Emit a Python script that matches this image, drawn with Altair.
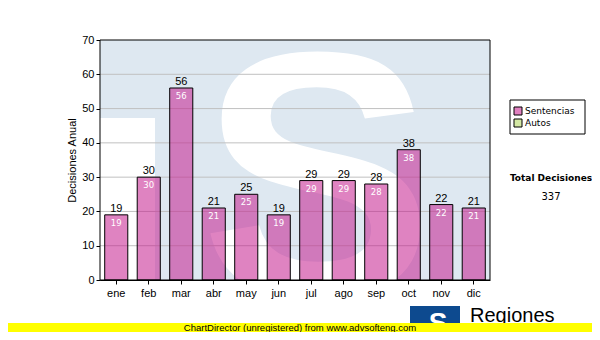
import altair as alt
import pandas as pd

# ---- data ----
months = ["ene", "feb", "mar", "abr", "may", "jun", "jul", "ago", "sep", "oct", "nov", "dic"]
values = [19, 30, 56, 21, 25, 19, 29, 29, 28, 38, 22, 21]
series_names = ["Sentencias", "Autos"]
series_colors = ["#e080c0", "#d4e8a4"]
total_label = "Total Decisiones"
total_value = 337
y_ticks = [0, 10, 20, 30, 40, 50, 60, 70]
grid_values = [10, 20, 30, 40, 50, 60]
y_title = "Decisiones Anual"
footer_text = "ChartDirector (unregistered) from www.advsofteng.com"
logo_title = "Regiones"
logo_sub = "Tribunal Supremo de Justicia"

W, H = 390, 240
AX_FONT = "Liberation Sans"

df = pd.DataFrame({"mes": months, "valor": values})
one = pd.DataFrame({"k": [0]})

x_enc = alt.X(
    "mes:N", sort=months,
    scale=alt.Scale(paddingInner=0.29, paddingOuter=0.145),
    axis=alt.Axis(title=None, labelAngle=0, labelFont=AX_FONT, labelFontSize=11,
                  labelColor="black", tickColor="black", tickSize=4,
                  domainColor="black", labelPadding=3, grid=False),
)
y_enc = alt.Y(
    "valor:Q",
    scale=alt.Scale(domain=[0, 70], nice=False),
    axis=alt.Axis(values=y_ticks, title=y_title, titleFont=AX_FONT, titleFontSize=11,
                  titleFontWeight="normal", titleColor="black", titlePadding=4,
                  labelFont=AX_FONT, labelFontSize=11, labelColor="black",
                  tickColor="black", tickSize=4, domainColor="black",
                  labelPadding=2, grid=False),
)

# watermark
wm_bg = alt.Chart(one).mark_rect(color="#dee8f1").encode(
    x=alt.value(0), x2=alt.value(W), y=alt.value(0), y2=alt.value(H))
wm_cut = alt.Chart(one).mark_rect(color="white").encode(
    x=alt.value(0), x2=alt.value(55), y=alt.value(78), y2=alt.value(H))
wm_s = alt.Chart(one).mark_text(
    text="S", font="Liberation Sans", fontWeight="bold", fontSize=350,
    color="white", clip=True, baseline="alphabetic", align="center",
).encode(x=alt.value(217), y=alt.value(256))

grid_df = pd.DataFrame({"valor": grid_values})
grid = alt.Chart(grid_df).mark_rule(color="#c0c0c0", strokeWidth=1).encode(y=y_enc)

bars = alt.Chart(df).mark_bar(
    fill="#c41e8e", fillOpacity=0.55, stroke="black", strokeWidth=1
).encode(x=x_enc, y=y_enc)

top_labels = alt.Chart(df).mark_text(
    baseline="bottom", dy=-1, fontSize=11, font=AX_FONT, color="black"
).encode(x=x_enc, y=y_enc, text="valor:Q")

in_labels = alt.Chart(df).mark_text(
    baseline="top", dy=4, fontSize=8.5, font="DejaVu Sans", color="white"
).encode(x=x_enc, y=y_enc, text="valor:Q")

frame = alt.Chart(one).mark_rect(fill="transparent", stroke="black", strokeWidth=1).encode(
    x=alt.value(0), x2=alt.value(W), y=alt.value(0), y2=alt.value(H))

# legend box
leg_box = alt.Chart(one).mark_rect(fill="white", stroke="black", strokeWidth=1).encode(
    x=alt.value(410), x2=alt.value(485), y=alt.value(60), y2=alt.value(94))
leg_df = pd.DataFrame({"name": series_names, "color": series_colors,
                       "y0": [67, 79], "y1": [75, 87], "yt": [71, 83]})
leg_sw = alt.Chart(leg_df).mark_rect(stroke="black", strokeWidth=1).encode(
    x=alt.value(414), x2=alt.value(422),
    y=alt.Y("y0:Q", scale=None), y2="y1:Q",
    fill=alt.Fill("color:N", scale=None))
leg_tx = alt.Chart(leg_df).mark_text(
    align="left", baseline="middle", font="DejaVu Sans", fontSize=9, color="black"
).encode(x=alt.value(425), y=alt.Y("yt:Q", scale=None), text="name:N")

total_t = alt.Chart(one).mark_text(
    text=total_label, font="DejaVu Sans", fontWeight="bold", fontSize=9,
    color="black", align="center", baseline="middle",
).encode(x=alt.value(451), y=alt.value(138))
total_v = alt.Chart(one).mark_text(
    text=str(total_value), font="DejaVu Sans", fontSize=10,
    color="black", align="center", baseline="middle",
).encode(x=alt.value(451), y=alt.value(157))

# logo
logo_box = alt.Chart(one).mark_rect(color="#0d4a8f").encode(
    x=alt.value(310), x2=alt.value(360), y=alt.value(266), y2=alt.value(292))
logo_s = alt.Chart(one).mark_text(
    text="S", font="Liberation Sans", fontWeight="bold", fontSize=28,
    color="white", align="center", baseline="alphabetic",
).encode(x=alt.value(338), y=alt.value(292))
logo_t = alt.Chart(one).mark_text(
    text=logo_title, font=AX_FONT, fontSize=20, color="black",
    align="left", baseline="alphabetic",
).encode(x=alt.value(370), y=alt.value(282))
logo_sub_t = alt.Chart(one).mark_text(
    text=logo_sub, font=AX_FONT, fontSize=11, color="black",
    align="left", baseline="alphabetic",
).encode(x=alt.value(370), y=alt.value(294))

# footer
footer_bar = alt.Chart(one).mark_rect(color="#ffff00").encode(
    x=alt.value(-100), x2=alt.value(500), y=alt.value(283), y2=alt.value(292))
footer_t = alt.Chart(one).mark_text(
    text=footer_text, font=AX_FONT, fontSize=9.5, color="black",
    align="center", baseline="middle",
).encode(x=alt.value(200), y=alt.value(288))

chart = alt.layer(
    wm_bg, wm_cut, wm_s, grid, bars, top_labels, in_labels, frame,
    leg_box, leg_sw, leg_tx, total_t, total_v,
    logo_box, logo_s, logo_t, logo_sub_t, footer_bar, footer_t,
).properties(
    width=W, height=H,
    autosize=alt.AutoSizeParams(type="none"),
    padding={"left": 92, "top": 32, "right": 102, "bottom": 52},
    background="white",
).configure_view(stroke=None)

chart.save("out.html", embed_options={"renderer": "svg", "actions": False})
